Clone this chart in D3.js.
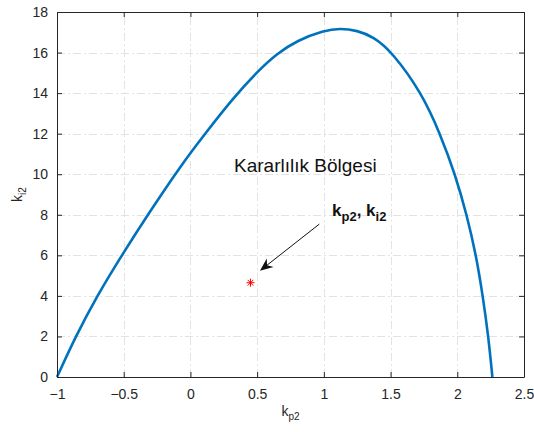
<!DOCTYPE html>
<html>
<head>
<meta charset="utf-8">
<script src="https://cdn.jsdelivr.net/npm/d3@7"></script>
<style>
  body { margin: 0; background: #fff; }
  svg { font-family: "Liberation Sans", Arial, Helvetica, sans-serif; }
</style>
</head>
<body>
<svg id="chart" width="534" height="432"></svg>
<script>
// stability boundary
const kp2 = [-1, -0.86, -0.70, -0.515, -0.32, -0.07, 0.11, 0.32, 0.50, 0.647, 0.80, 1.0, 1.12, 1.25, 1.37, 1.509, 1.734, 1.871, 1.984, 2.071, 2.141, 2.191, 2.233, 2.263];
const ki2 = [0, 2, 4, 6, 8, 10.45, 12, 13.75, 15.05, 15.94, 16.6, 17.08, 17.2, 17.09, 16.78, 16.05, 14, 12, 10, 8, 6, 4, 2, 0];

const pointKp = [0.45];
const pointKi = [4.65];

const xTicks = [-1, -0.5, 0, 0.5, 1, 1.5, 2, 2.5];
const yTicks = [0, 2, 4, 6, 8, 10, 12, 14, 16, 18];

const svg = d3.select('#chart');

const margin = { left: 57, right: 10, top: 12, bottom: 55 };
const width = 534, height = 432;

const x = d3.scaleLinear().domain([-1, 2.5]).range([margin.left, width - margin.right]);
const y = d3.scaleLinear().domain([0, 18]).range([height - margin.bottom, margin.top]);

const axisColor = '#262626';

// grid
const grid = svg.append('g')
  .attr('stroke', '#e3e3e3')
  .attr('stroke-width', 1)
  .attr('stroke-dasharray', '8,3,2,3');
grid.selectAll('line.gx').data(xTicks.slice(1, -1)).enter().append('line')
  .attr('x1', d => Math.round(x(d)) + 0.5).attr('x2', d => Math.round(x(d)) + 0.5)
  .attr('y1', y(0)).attr('y2', y(18));
grid.selectAll('line.gy').data(yTicks.slice(1, -1)).enter().append('line')
  .attr('y1', d => Math.round(y(d)) + 0.5).attr('y2', d => Math.round(y(d)) + 0.5)
  .attr('x1', x(-1)).attr('x2', x(2.5));

// curve
const line = d3.line()
  .x((d, i) => x(kp2[i]))
  .y((d, i) => y(ki2[i]))
  .curve(d3.curveBasis);

svg.append('path')
  .datum(kp2)
  .attr('d', line)
  .attr('fill', 'none')
  .attr('stroke', '#0072BD')
  .attr('stroke-width', 2.6);

// axes (MATLAB style box with inward ticks)
const xAxis = d3.axisBottom(x).tickValues(xTicks).tickSize(-5).tickSizeOuter(0).tickPadding(12).tickFormat(d3.format('~g'));
const yAxis = d3.axisLeft(y).tickValues(yTicks).tickSize(-5).tickSizeOuter(0).tickPadding(9);
const xAxisTop = d3.axisTop(x).tickValues(xTicks).tickSize(-5).tickSizeOuter(0).tickFormat('');
const yAxisRight = d3.axisRight(y).tickValues(yTicks).tickSize(-5).tickSizeOuter(0).tickFormat('');

function styleAxis(g) {
  g.selectAll('path').attr('stroke', axisColor);
  g.selectAll('line').attr('stroke', axisColor);
  g.selectAll('text').attr('fill', axisColor).style('font-size', '14px')
    .style('font-family', '"Liberation Sans", Arial, sans-serif');
}

svg.append('g').attr('transform', `translate(0,${y(0)})`).call(xAxis).call(styleAxis);
svg.append('g').attr('transform', `translate(${x(-1)},0)`).call(yAxis).call(styleAxis);
svg.append('g').attr('transform', `translate(0,${y(18)})`).call(xAxisTop).call(styleAxis);
svg.append('g').attr('transform', `translate(${x(2.5)},0)`).call(yAxisRight).call(styleAxis);

// axis labels
const xl = svg.append('text')
  .attr('x', (x(-1) + x(2.5)) / 2).attr('y', 416)
  .attr('text-anchor', 'middle')
  .attr('fill', axisColor).style('font-size', '14px');
xl.append('tspan').text('k');
xl.append('tspan').attr('dy', 4).style('font-size', '10px').text('p2');

const yl = svg.append('text')
  .attr('transform', `translate(22,${(y(0) + y(18)) / 2}) rotate(-90)`)
  .attr('text-anchor', 'middle')
  .attr('fill', axisColor).style('font-size', '14px');
yl.append('tspan').text('k');
yl.append('tspan').attr('dy', 4).style('font-size', '10px').text('i2');

// region label
svg.append('text')
  .attr('x', x(0.327)).attr('y', y(10.13))
  .attr('fill', '#111')
  .style('font-size', '19px')
  .text('Kararlılık Bölgesi');

// annotation label
const al = svg.append('text')
  .attr('x', x(1.061)).attr('y', y(7.94))
  .attr('fill', '#111')
  .style('font-weight', 'bold')
  .style('font-size', '17px');
al.append('tspan').text('k');
al.append('tspan').attr('dy', 5).style('font-size', '13px').text('p2');
al.append('tspan').attr('dy', -5).text(', k');
al.append('tspan').attr('dy', 5).style('font-size', '13px').text('i2');

// arrow
const ax1 = x(0.966), ay1 = y(7.54), ax2 = x(0.521), ay2 = y(5.24);
const ang = Math.atan2(ay2 - ay1, ax2 - ax1);
const headLen = 13, headW = 5.5, back = 9;
svg.append('line')
  .attr('x1', ax1).attr('y1', ay1)
  .attr('x2', ax2 - Math.cos(ang) * back).attr('y2', ay2 - Math.sin(ang) * back)
  .attr('stroke', '#111').attr('stroke-width', 1);
const ux = Math.cos(ang), uy = Math.sin(ang);
const bx = ax2 - ux * headLen, by = ay2 - uy * headLen;
const head = [
  [ax2, ay2],
  [bx - uy * headW, by + ux * headW],
  [ax2 - ux * back, ay2 - uy * back],
  [bx + uy * headW, by - ux * headW]
];
svg.append('path')
  .attr('d', 'M' + head.map(p => p.join(',')).join('L') + 'Z')
  .attr('fill', '#111');

// marked point (asterisk)
const star = svg.append('g').attr('stroke', '#ff0000').attr('stroke-width', 1);
pointKp.forEach((kp, i) => {
  const cx = x(kp), cy = y(pointKi[i]), r = 4;
  [0, 45, 90, 135].forEach(a => {
    const t = a * Math.PI / 180;
    star.append('line')
      .attr('x1', cx - r * Math.cos(t)).attr('y1', cy - r * Math.sin(t))
      .attr('x2', cx + r * Math.cos(t)).attr('y2', cy + r * Math.sin(t));
  });
});
</script>
</body>
</html>
